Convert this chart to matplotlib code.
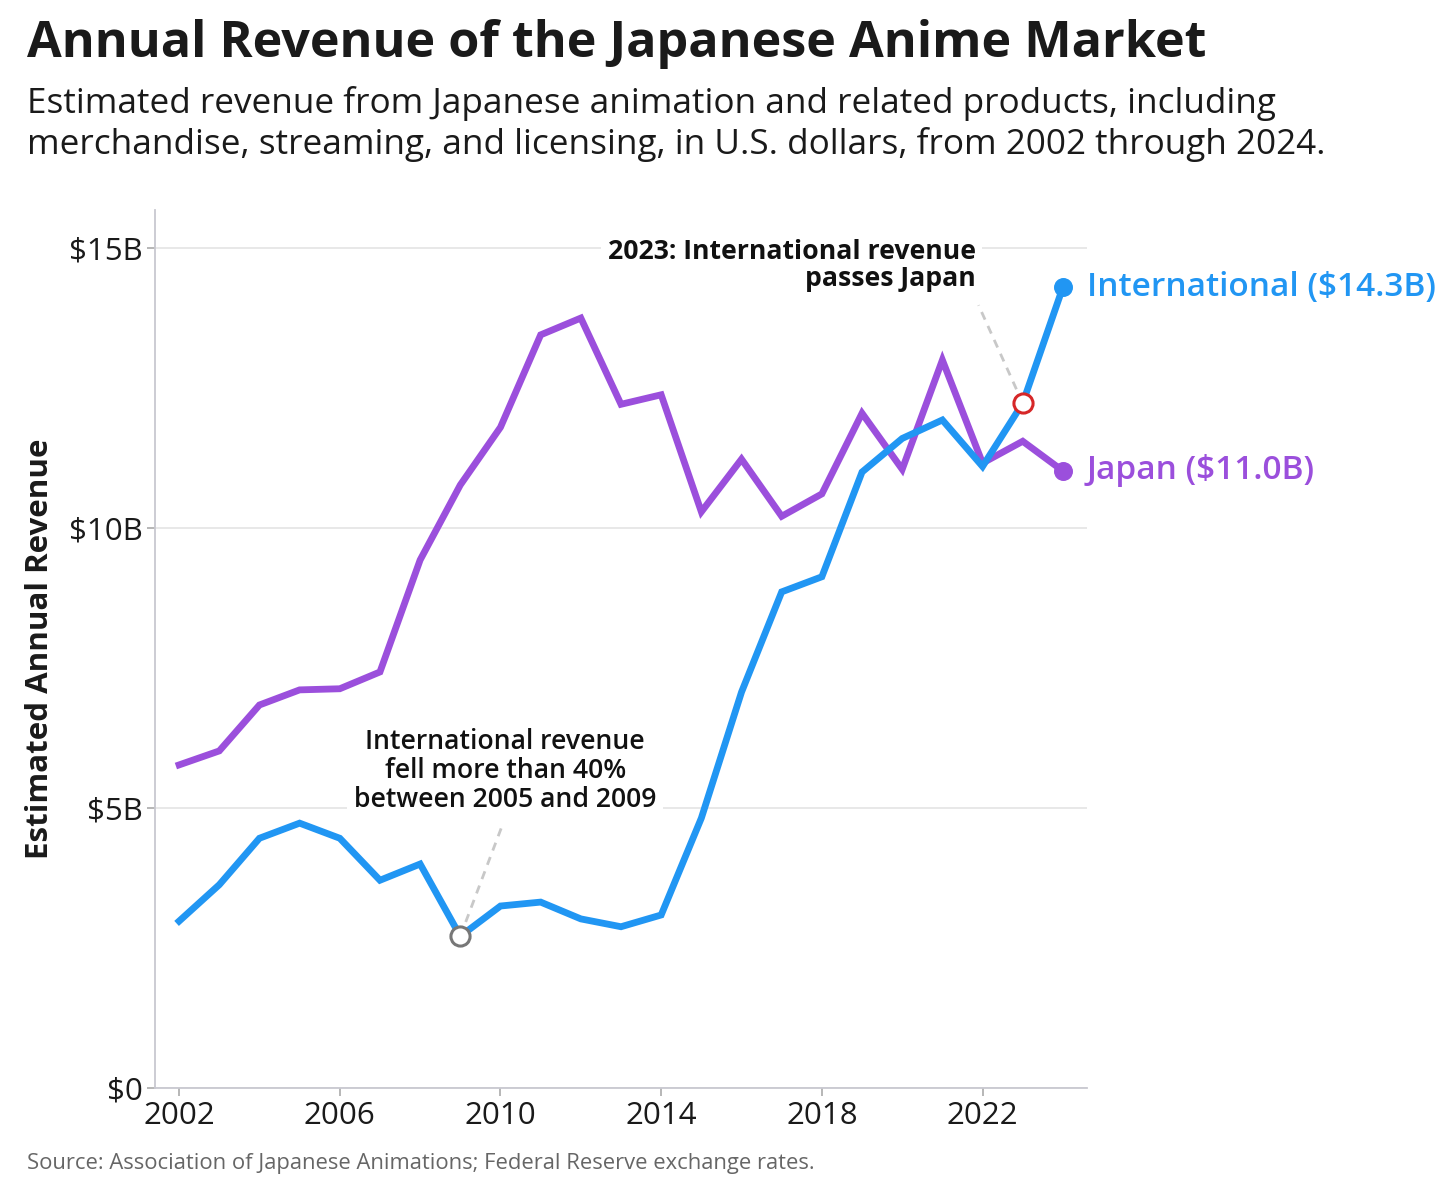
import matplotlib
matplotlib.use("Agg")
import matplotlib.pyplot as plt

plt.rcParams['font.family'] = ['Open Sans', 'DejaVu Sans']

years = list(range(2002, 2025))
international = [2.98, 3.63, 4.46, 4.73, 4.46, 3.71, 4.00, 2.71, 3.25, 3.32, 3.02, 2.88,
                 3.09, 4.82, 7.07, 8.86, 9.13, 11.00, 11.60, 11.93, 11.10, 12.23, 14.30]
japan = [5.77, 6.02, 6.84, 7.11, 7.13, 7.43, 9.43, 10.77, 11.80, 13.45, 13.75, 12.21,
         12.38, 10.29, 11.23, 10.21, 10.61, 12.05, 11.05, 13.00, 11.16, 11.55, 11.02]
yticks = [0, 5, 10, 15]
ytick_labels = ['$0', '$5B', '$10B', '$15B']
xticks = [2002, 2006, 2010, 2014, 2018, 2022]

BLUE = '#2196f3'
PURPLE = '#9b4fdc'
GRID = '#e6e6e6'
AXIS = '#c8c8d0'

fig = plt.figure(figsize=(14.56, 11.88), dpi=100)
ax = fig.add_axes([155 / 1456, 1 - 1088 / 1188, (1087 - 155) / 1456, (1088 - 210) / 1188])

ax.plot(years, japan, color=PURPLE, lw=4.9, solid_joinstyle='miter', zorder=3)
ax.plot(years, international, color=BLUE, lw=4.9, solid_joinstyle='miter', zorder=4)
ax.scatter([years[-1]], [international[-1]], s=160, color=BLUE, zorder=5)
ax.scatter([years[-1]], [japan[-1]], s=160, color=PURPLE, zorder=5)

ax.set_xlim(2001.4, 2024.6)
ax.set_ylim(0, 15.68)
ax.set_yticks(yticks)
ax.set_yticklabels(ytick_labels)
ax.set_xticks(xticks)
ax.tick_params(axis='both', labelsize=22.5, labelcolor='#1a1a1a', length=6, width=1.2,
               color='#aaaaaa', pad=3)
for s in ['top', 'right']:
    ax.spines[s].set_visible(False)
for s in ['left', 'bottom']:
    ax.spines[s].set_color(AXIS)
    ax.spines[s].set_linewidth(1.3)
ax.yaxis.grid(True, color=GRID, lw=1.3, zorder=0)
ax.set_axisbelow(True)
ax.set_ylabel('Estimated Annual Revenue', fontsize=22.5, fontweight='bold', color='#1a1a1a',
              labelpad=10)

# Annotation 2009
i09 = years.index(2009)
ax.plot([2009, 2010.05], [international[i09], 4.7], ls=(0, (3, 2.5)), color='#c8c8c8', lw=2, zorder=2)
ax.scatter([2009], [international[i09]], s=190, facecolor='white', edgecolor='#777777', lw=2.2, zorder=6)
ax.text(2010.12, 5.66, 'International revenue\nfell more than 40%\nbetween 2005 and 2009',
        ha='center', va='center', fontsize=19.2, fontweight='semibold', color='#111111',
        linespacing=1.05, zorder=7,
        bbox=dict(boxstyle='square,pad=0.25', fc='white', ec='none'))

# Annotation 2023
i23 = years.index(2023)
ax.plot([2023, 2021.9], [international[i23], 13.98], ls=(0, (3, 2.5)), color='#c8c8c8', lw=2, zorder=2)
ax.scatter([2023], [international[i23]], s=190, facecolor='white', edgecolor='#d62728', lw=2.2, zorder=6)
ax.text(2021.83, 14.68, '2023: International revenue\npasses Japan',
        ha='right', va='center', fontsize=19.2, fontweight='bold', color='#111111',
        linespacing=1.05, zorder=7,
        bbox=dict(boxstyle='square,pad=0.25', fc='white', ec='none'))

# End labels
ax.text(2024.6, international[-1], 'International ($14.3B)', ha='left', va='center',
        fontsize=24, fontweight='semibold', color=BLUE, clip_on=False)
ax.text(2024.6, japan[-1], 'Japan ($11.0B)', ha='left', va='center',
        fontsize=24, fontweight='semibold', color=PURPLE, clip_on=False)

fig.text(0.0185, 0.963, 'Annual Revenue of the Japanese Anime Market', fontsize=36.3,
         fontweight='bold', color='#1a1a1a', ha='left', va='center')
fig.text(0.0185, 0.8955, 'Estimated revenue from Japanese animation and related products, including\n'
         'merchandise, streaming, and licensing, in U.S. dollars, from 2002 through 2024.',
         fontsize=25.3, color='#1a1a1a', ha='left', va='center', linespacing=1.22)
fig.text(0.0185, 0.021, 'Source: Association of Japanese Animations; Federal Reserve exchange rates.',
         fontsize=15.8, color='#666666', ha='left', va='center')

fig.savefig('out.png', dpi=100)
